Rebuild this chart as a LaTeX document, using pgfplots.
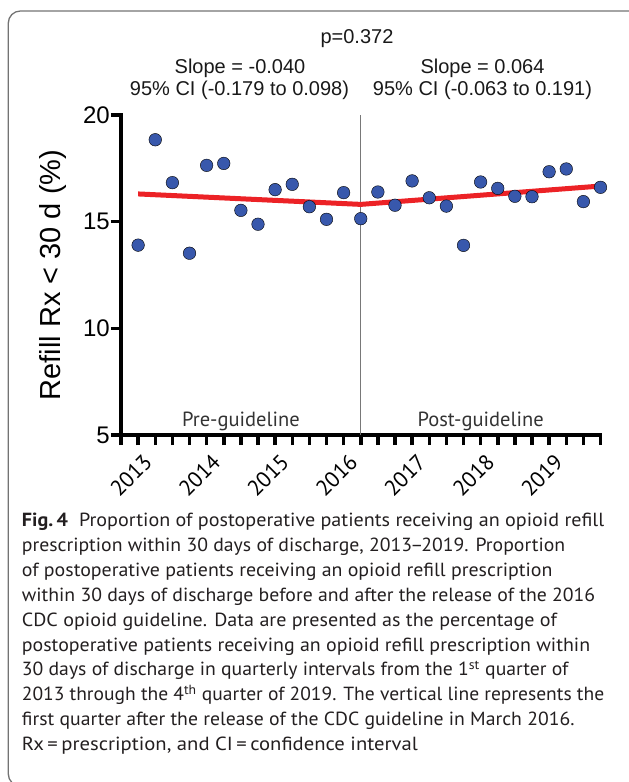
\documentclass[border=0pt]{standalone}
\usepackage{fontspec}
\usepackage{graphicx}
\usepackage{pgfplots}
\pgfplotsset{compat=1.18}
\setmainfont{Liberation Sans}
\newfontfamily\arialf{Liberation Sans}
\newfontfamily\myr{PT Sans}
\definecolor{dotblue}{RGB}{56,88,172}
\definecolor{fitred}{RGB}{236,34,38}
\definecolor{vgray}{RGB}{120,120,120}
\definecolor{boxgray}{RGB}{115,115,115}
\definecolor{captxt}{RGB}{35,31,32}
\newsavebox\capbox
\newcommand\capline[3]{%
  \node[anchor=base west, inner sep=0pt, font=\myr\fontsize{19}{19}\selectfont, text=captxt] at (21.7pt,-#2pt)
  {\sbox\capbox{#3}\pgfmathsetmacro\sx{#1/(\the\wd\capbox)}\scalebox{\sx}[1]{\usebox\capbox}};}

\pgfplotstableread{
x y
1 13.90
2 18.84
3 16.83
4 13.52
5 17.64
6 17.73
7 15.53
8 14.88
9 16.50
10 16.75
11 15.70
12 15.11
13 16.36
14 15.14
15 16.39
16 15.77
17 16.91
18 16.12
19 15.73
20 13.89
21 16.86
22 16.56
23 16.19
24 16.17
25 17.34
26 17.47
27 15.94
28 16.61
}\refilldata

\begin{document}
\begin{tikzpicture}
\useasboundingbox (0,0) rectangle (629pt,-782pt);
\clip (0,0) rectangle (629pt,-782pt);
\draw[boxgray, line width=1.3pt, rounded corners=12pt] (8.3pt,-11pt) rectangle (645pt,-786pt);

\begin{axis}[
  at={(121pt,-435pt)}, anchor=south west,
  scale only axis, width=479.5pt, height=320pt,
  xmin=0, xmax=28, ymin=5, ymax=20,
  clip=false,
  axis x line*=bottom, axis y line*=left,
  axis line style={line width=3.3pt, line cap=rect},
  tick align=outside,
  major tick length=10pt, minor tick length=10pt,
  every tick/.style={black, line width=3.5pt},
  every minor tick/.style={black, line width=3.5pt},
  xtick={1,5,9,13,17,21,25},
  xticklabels={2013,2014,2015,2016,2017,2018,2019},
  minor xtick={0,...,28},
  ytick={5,10,15,20},
  /pgf/number format/assume math mode=true,
  yticklabel style={font=\arialf\fontsize{24}{24}\selectfont, inner sep=1pt},
  xticklabel style={font=\myr\fontsize{22}{22}\selectfont, inner sep=0pt, xshift=10pt, yshift=-13pt, rotate=45, anchor=east},
  ylabel={Refill Rx < 30 d (\%)},
  every axis y label/.style={at={(axis description cs:-0.1272,0.5)}, rotate=90, anchor=base, font=\arialf\fontsize{29}{29}\selectfont},
]
\addplot[vgray, line width=1.3pt] coordinates {(14,5) (14,20)};
\addplot[fitred, line width=5pt] coordinates {(1,16.30) (14,15.81) (28,16.67)};
\addplot[only marks, mark=*, mark size=6.3pt, mark options={draw=none, fill=dotblue}] table[x=x, y=y] {\refilldata};
\node[anchor=base, font=\myr\fontsize{20.5}{20.5}\selectfont, text=black!80] at (axis cs:7.0,5.42) {Pre-guideline};
\node[anchor=base, font=\myr\fontsize{20.5}{20.5}\selectfont, text=black!80] at (axis cs:21.0,5.42) {Post-guideline};
\end{axis}

\begin{scope}[every node/.style={anchor=base, inner sep=0pt, font=\arialf\fontsize{20}{20}\selectfont, text=black!90}]
\node at (357pt,-43pt) {p=0.372};
\node at (240pt,-73pt) {Slope = -0.040};
\node at (239.5pt,-95pt) {95\% CI (-0.179 to 0.098)};
\node at (482.5pt,-73pt) {Slope = 0.064};
\node at (482.5pt,-95pt) {95\% CI (-0.063 to 0.191)};
\end{scope}

\capline{582.3}{526.5}{{\bfseries Fig.\,4}\hspace{0.55em}Proportion of postoperative patients receiving an opioid refill}
\capline{543.3}{551.4}{prescription within 30 days of discharge, 2013\kern-0.1em–\kern-0.1em2019. Proportion}
\capline{530.6}{576.3}{of postoperative patients receiving an opioid refill prescription}
\capline{573.3}{601.2}{within 30 days of discharge before and after the release of the 2016}
\capline{535.0}{626.1}{CDC opioid guideline. Data are presented as the percentage of}
\capline{568.3}{651.0}{postoperative patients receiving an opioid refill prescription within}
\capline{546.6}{675.9}{30 days of discharge in quarterly intervals from the 1\textsuperscript{st} quarter of}
\capline{582.3}{700.8}{2013 through the 4\textsuperscript{th} quarter of 2019. The vertical line represents the}
\capline{552.6}{725.7}{first quarter after the release of the CDC guideline in March 2016.}
\capline{396.0}{750.6}{Rx\,=\,prescription, and CI\,=\,confidence interval}
\end{tikzpicture}
\end{document}
